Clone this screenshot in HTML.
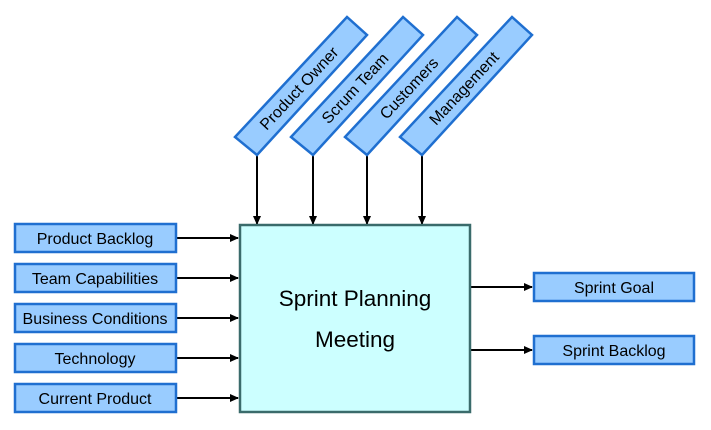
<!DOCTYPE html>
<html><head><meta charset="utf-8"><style>
html,body{margin:0;padding:0;background:#fff;}
svg{display:block;}
text{font-family:"Liberation Sans",sans-serif;fill:#000;}
</style></head><body>
<svg width="711" height="430" viewBox="0 0 711 430" xmlns="http://www.w3.org/2000/svg">
<defs>
<marker id="a" markerWidth="9" markerHeight="9" refX="8" refY="4.5" orient="auto" markerUnits="userSpaceOnUse">
<path d="M0,0.5 L9,4.5 L0,8.5 Z" fill="#000"/>
</marker>
</defs>
<g stroke="#000" stroke-width="2" marker-end="url(#a)">
<line x1="257" y1="155" x2="257" y2="224"/>
<line x1="313" y1="155" x2="313" y2="224"/>
<line x1="367" y1="155" x2="367" y2="224"/>
<line x1="422" y1="155" x2="422" y2="224"/>
<line x1="177" y1="238" x2="238" y2="238"/>
<line x1="177" y1="278" x2="238" y2="278"/>
<line x1="177" y1="318" x2="238" y2="318"/>
<line x1="177" y1="358" x2="238" y2="358"/>
<line x1="177" y1="398" x2="238" y2="398"/>
<line x1="471" y1="287" x2="532" y2="287"/>
<line x1="471" y1="350" x2="532" y2="350"/>
</g>
<rect x="240" y="225" width="230" height="187" fill="#ccffff" stroke="#3a6b6b" stroke-width="2.5"/>
<text x="355" y="306" font-size="22.5" text-anchor="middle">Sprint Planning</text>
<text x="355" y="347" font-size="22.5" text-anchor="middle">Meeting</text>
<g fill="#99ccff" stroke="#1f6fd0" stroke-width="2.5">
<rect x="15" y="224" width="161" height="28"/>
<rect x="15" y="264" width="161" height="28"/>
<rect x="15" y="304" width="161" height="28"/>
<rect x="15" y="344" width="161" height="28"/>
<rect x="15" y="384" width="161" height="28"/>
<rect x="534" y="273" width="160" height="28"/>
<rect x="534" y="336" width="160" height="28"/>
<polygon points="257,155 235,137 347,17 367,35"/>
<polygon points="313,155 291,137 403,17 423,35"/>
<polygon points="367,155 345,137 457,17 477,35"/>
<polygon points="422,155 400,137 512,17 532,35"/>
</g>
<g font-size="16" text-anchor="middle">
<text x="95" y="244">Product Backlog</text>
<text x="95" y="284">Team Capabilities</text>
<text x="95" y="324">Business Conditions</text>
<text x="95" y="364">Technology</text>
<text x="95" y="404">Current Product</text>
<text x="614" y="293">Sprint Goal</text>
<text x="614" y="356">Sprint Backlog</text>
<text transform="translate(303,92) rotate(-47)" x="0" y="0">Product Owner</text>
<text transform="translate(359,92) rotate(-47)" x="0" y="0">Scrum Team</text>
<text transform="translate(413,92) rotate(-47)" x="0" y="0">Customers</text>
<text transform="translate(468,92) rotate(-47)" x="0" y="0">Management</text>
</g>
</svg>
</body></html>
